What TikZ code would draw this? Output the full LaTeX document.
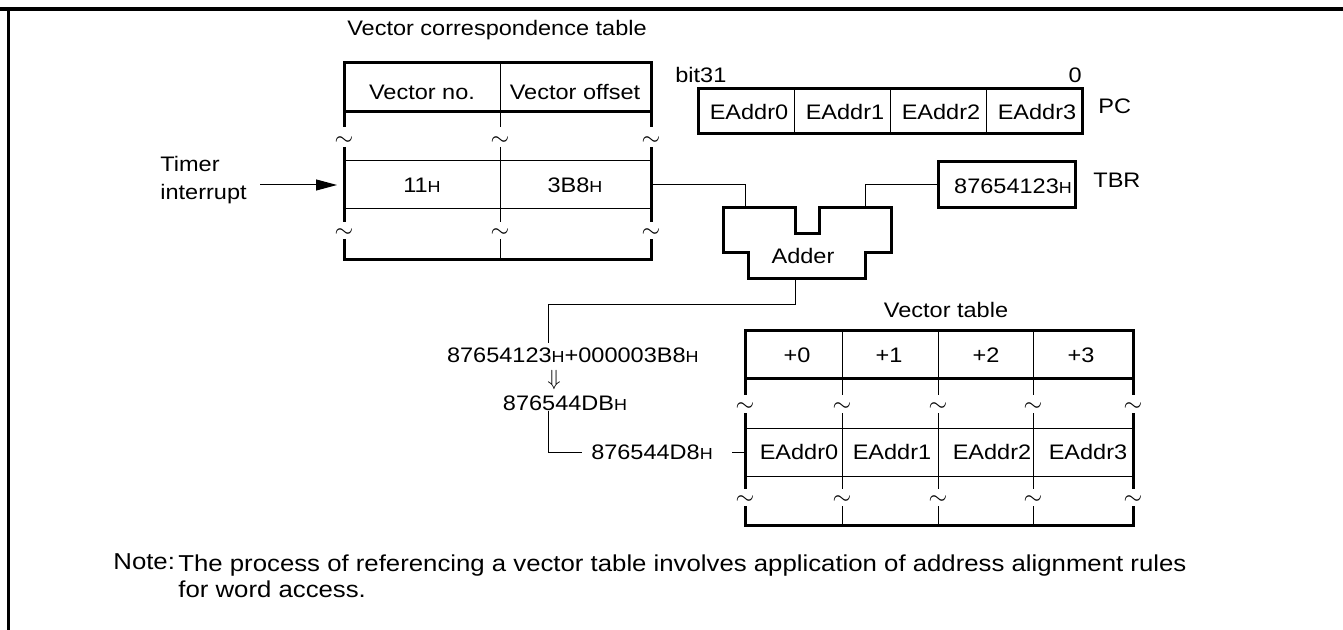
\documentclass[tikz,border=0pt]{standalone}
\usepackage{fontspec}
\setmainfont[FakeStretch=1.12]{Liberation Sans}
\usepackage{tikz}
\usetikzlibrary{arrows.meta}

\newcommand{\hsub}{{\fontsize{8}{8}\selectfont H}}

\tikzset{
  lbl/.style={inner sep=0pt,font=\fontsize{10.5}{14}\selectfont},
  thk/.style={line width=1.5pt},
  thn/.style={line width=0.5pt},
  brk/.style={inner sep=0pt,font=\fontsize{13}{13}\selectfont},
}

\begin{document}
\begin{tikzpicture}[x=0.5pt,y=-0.5pt]
  \useasboundingbox (0,0) rectangle (1343,630);
  % frame
  \draw[line width=1.8pt] (0,9) -- (1343,9);
  \draw[line width=1.5pt] (8,9) -- (8,630);

  % vector correspondence table
  \node[lbl] (vctitle) at (497,30) {Vector correspondence table};
  \draw[thk] (344,127) |- (651,63) -- (651,127);
  \draw[thk] (344,112) -- (651,112);
  \draw[thk] (344,147) -- (344,222) (651,147) -- (651,222);
  \draw[thk] (344,239) |- (651,260) -- (651,239);
  \draw[thn] (500,63) -- (500,127) (500,147) -- (500,222) (500,239) -- (500,260);
  \draw[thn] (344,161) -- (651,161) (344,209) -- (651,209);
  \foreach \x in {344,500,651}
    \foreach \y in {139,231}
      \node[brk] at (\x,\y+2) {$\sim$};
  \node[lbl] (vno) at (422,92) {Vector no.};
  \node[lbl] (voff) at (575,92) {Vector offset};
  \node[lbl] (num) at (422,185) {11\hsub};
  \node[lbl] (off) at (575,185) {3B8\hsub};
  \coordinate (vcin) at (344,185);
  \coordinate (vcout) at (651,185);

  \node[lbl, anchor=west, align=left] (timer) at (160,180) {Timer\\interrupt};
  \draw[thn, -{Triangle[length=10.5pt,width=5.5pt]}, shorten >=3.5pt]
    (timer.east |- vcin) ++(13,0) -- (vcin);

  % adder
  \draw[thk] (723,208) -- (795,208) -- (795,234) -- (819,234) -- (819,208)
    -- (891,208) -- (891,253) -- (865,253) -- (865,279) -- (748,279)
    -- (748,253) -- (723,253) -- cycle;
  \node[lbl] (adder) at (803,256) {Adder};
  \coordinate (addinA) at (745,208);
  \coordinate (addinB) at (865,208);
  \coordinate (addout) at (795,279);
  \draw[thn] (vcout) -| (addinA);

  % PC
  \node[lbl, anchor=west] (bit31) at (675,75) {bit31};
  \node[lbl, anchor=east] (bit0) at (1082,75) {0};
  \draw[thk] (698,89) rectangle (1082,134);
  \draw[thn] (794,89) -- (794,134) (890,89) -- (890,134) (986,89) -- (986,134);
  \foreach \i in {0,...,3}
    \node[lbl] (pc\i) at (749+96*\i,112) {EAddr\i};
  \node[lbl, anchor=west] (pclbl) at (1098,106) {PC};

  % TBR
  \node[draw, thk, minimum width=68.5pt, minimum height=23pt, inner sep=0pt] (tbr) at (1006.5,185) {};
  \node[lbl] (tbrval) at (1013,186) {87654123\hsub};
  \node[lbl, anchor=west] (tbrlbl) at (1093,180) {TBR};
  \draw[thn] (tbr.west) -| (addinB);

  % vector table
  \node[lbl] (vttitle) at (946,310) {Vector table};
  \draw[thk] (745,395) |- (1133,331) -- (1133,395);
  \draw[thk] (745,379) -- (1133,379);
  \draw[thk] (745,413) -- (745,489) (1133,413) -- (1133,489);
  \draw[thk] (745,506) |- (1133,525) -- (1133,506);
  \foreach \x in {842,938,1033}
    \draw[thn] (\x,331) -- (\x,395) (\x,413) -- (\x,489) (\x,506) -- (\x,525);
  \draw[thn] (745,428) -- (1133,428) (745,476) -- (1133,476);
  \foreach \x in {745,842,938,1033,1133}
    \foreach \y in {405,498}
      \node[brk] at (\x,\y+2) {$\sim$};
  \foreach \i/\x in {0/797,1/889,2/986,3/1081}
    \node[lbl] (ofs\i) at (\x,355) {+\i};
  \foreach \i/\x in {0/799,1/892,2/992,3/1088}
    \node[lbl] (ent\i) at (\x,452) {EAddr\i};
  \coordinate (vtin) at (745,452);

  % address calculation
  \node[lbl, anchor=east] (sum) at (699,355) {87654123\hsub+000003B8\hsub};
  \node[inner sep=0pt, font=\fontsize{11}{11}\selectfont] (implies) at (554,380) {$\Downarrow$};
  \node[lbl] (raw) at (565,403) {876544DB\hsub};
  \node[lbl] (aligned) at (652,452) {876544D8\hsub};
  \coordinate (sumin) at (548,343);
  \draw[thn] (addout) -- ++(0,26) -| (sumin);
  \draw[thn, shorten >=4.5pt] (raw.south -| sumin) |- (aligned.west);
  \draw[thn] (aligned.east) ++(19,0) -- (vtin);

  % note
  \node[lbl, anchor=base west, font=\fontsize{11.5}{13}\selectfont] (notehd) at (113,569) {Note:};
  \node[lbl, anchor=north west, align=left, font=\fontsize{11.5}{13}\selectfont] (note) at (178,554)
    {The process of referencing a vector table involves application of address alignment rules\\for word access.};
\end{tikzpicture}
\end{document}
